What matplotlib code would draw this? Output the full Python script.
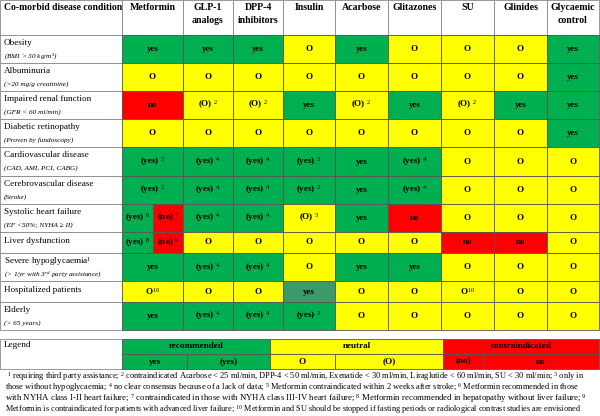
import matplotlib.pyplot as plt
from matplotlib.patches import Rectangle

plt.rcParams['font.family'] = 'Liberation Serif'
plt.rcParams['mathtext.fontset'] = 'custom'
plt.rcParams['mathtext.rm'] = 'Liberation Serif'
plt.rcParams['mathtext.it'] = 'Liberation Serif:italic'
plt.rcParams['mathtext.bf'] = 'Liberation Serif:bold'

# ---- data ----
drugs = ["Metformin", "GLP-1\nanalogs", "DPP-4\ninhibitors", "Insulin", "Acarbose",
         "Glitazones", "SU", "Glinides", "Glycaemic\ncontrol"]

conditions = ["Obesity", "Albuminuria", "Impaired renal function", "Diabetic retinopathy",
              "Cardiovascular disease", "Cerebrovascular disease", "Systolic heart failure",
              "Liver dysfunction", "Severe hypoglycaemia$^{1}$", "Hospitalized patients", "Elderly"]

subtitles = ["(BMI > 30 kg/m$^{2}$)", "(>20 mg/g creatinine)", "(GFR < 60 ml/min)",
             "(Proven by fundoscopy)", "(CAD, AMI, PCI, CABG)", "(Stroke)",
             "(EF <50%; NYHA \u2265 II)", "", "(> 1/yr with 3$^{rd}$ party assistance)",
             "", "(> 65 years)"]

# one entry per drug; a list means the cell is split in two
ratings = [
    ["yes", "yes", "yes", "O", "yes", "O", "O", "O", "yes"],
    ["O", "O", "O", "O", "O", "O", "O", "O", "yes"],
    ["no", "(O) ^2", "(O) ^2", "yes", "(O) ^2", "yes", "(O) ^2", "yes", "yes"],
    ["O", "O", "O", "O", "O", "O", "O", "O", "yes"],
    ["(yes) ^3", "(yes) ^4", "(yes) ^4", "(yes) ^3", "yes", "(yes) ^4", "O", "O", "O"],
    ["(yes) ^5", "(yes) ^4", "(yes) ^4", "(yes) ^3", "yes", "(yes) ^4", "O", "O", "O"],
    [["(yes) ^6", "(no) ^7"], "(yes) ^4", "(yes) ^4", "(O) ^3", "yes", "no", "O", "O", "O"],
    [["(yes) ^8", "(no) ^9"], "O", "O", "O", "O", "O", "no", "no", "O"],
    ["yes", "(yes) ^4", "(yes) ^4", "O", "yes", "yes", "O", "O", "O"],
    ["O^10", "O", "O", "yes", "O", "O", "O^10", "O", "O"],
    ["yes", "(yes) ^4", "(yes) ^4", "(yes) ^3", "O", "O", "O", "O", "O"],
]
shaded_cells = [("Hospitalized patients", "Insulin")]

legend_groups = ["recommended", "neutral", "contraindicated"]
legend_items = ["yes", "(yes)", "O", "(O)", "(no)", "no"]

footnotes = [
    "$^{1}$ requiring third party assistance; $^{2}$ contraindicated Acarbose < 25 ml/min, DPP-4 < 50 ml/min, "
    "Exenatide < 30 ml/min, Liraglutide < 60 ml/min, SU < 30 ml/min; $^{3}$ only in",
    "those without hypoglycaemia; $^{4}$ no clear consensus because of a lack of data; $^{5}$ Metformin "
    "contraindicated within 2 weeks after stroke; $^{6}$ Metformin recommended in those",
    "with NYHA class I-II heart failure; $^{7}$ contraindicated in those with NYHA class III-IV heart failure; "
    "$^{8}$ Metformin recommended in hepatopathy without liver failure; $^{9}$",
    "Metformin is contraindicated for patients with advanced liver failure; $^{10}$ Metformin and SU should be "
    "stopped if fasting periods or radiological contrast studies are envisioned",
]

# ---- layout ----
GREEN, YELLOW, RED, SHADE = "#00B050", "#FFFF00", "#FF0000", "#3C9A6A"
col_edges = [0, 122, 183, 233, 283, 335, 388, 441, 494, 547, 599]
row_heights = [28, 28, 28, 28, 29, 28, 28, 21, 28, 21, 28]
header_h = 35
split_x = 153
line_c = "#555555"


def cell_colour(s):
    if "yes" in s:
        return GREEN
    if "no" in s:
        return RED
    return YELLOW


def cell_text(s):
    base, _, sup = s.partition("^")
    return base + ("$^{%s}$" % sup if sup else "")


fig = plt.figure(figsize=(6, 4.16), dpi=100)
ax = fig.add_axes([0, 0, 1, 1])
ax.set_xlim(0, 600)
ax.set_ylim(416, 0)
ax.axis("off")


def box(x0, y0, x1, y1, fc, ec=line_c):
    ax.add_patch(Rectangle((x0, y0), x1 - x0, y1 - y0, facecolor=fc,
                           edgecolor=ec, linewidth=0.6))


# header
box(col_edges[0], 0, col_edges[1], header_h, "white", "#888888")
ax.text(4, 8, "Co-morbid disease condition", fontsize=6.9, fontweight="bold", va="center")
for j, d in enumerate(drugs):
    x0, x1 = col_edges[j + 1], col_edges[j + 2]
    box(x0, 0, x1, header_h, "white", "#888888")
    ax.text((x0 + x1) / 2, 2.5, d, fontsize=7.1, fontweight="bold", ha="center",
            va="top", linespacing=1.6)

# body
y = header_h
for i, cond in enumerate(conditions):
    h = row_heights[i]
    box(col_edges[0], y, col_edges[1], y + h, "white", "#888888")
    if subtitles[i]:
        ax.text(4, y + 8, cond, fontsize=6.6, va="center")
        ax.text(4, y + 21, subtitles[i], fontsize=5.2, style="italic", va="center")
    else:
        ax.text(4, y + h / 2 - 1.5, cond, fontsize=6.6, va="center")
    for j, r in enumerate(ratings[i]):
        x0, x1 = col_edges[j + 1], col_edges[j + 2]
        if isinstance(r, list):
            parts = [(x0, split_x, r[0]), (split_x, x1, r[1])]
        else:
            parts = [(x0, x1, r)]
        for a, b, s in parts:
            fc = cell_colour(s)
            if (cond, drugs[j]) in shaded_cells:
                fc = SHADE
            box(a, y, b, y + h, fc)
            ax.text((a + b) / 2, y + h / 2, cell_text(s), fontsize=6.5,
                    fontweight="bold", ha="center", va="center")
    y += h

# legend
ly0, ly1, ly2 = 339, 354, 369
group_edges = [122, 270, 443, 599]
item_edges = [122, 187, 270, 335, 443, 483, 599]
box(0, ly0, 122, ly2, "white", "#888888")
ax.text(4, ly0 + 6, "Legend", fontsize=6.6, va="center")
for k, g in enumerate(legend_groups):
    a, b = group_edges[k], group_edges[k + 1]
    fc = [GREEN, YELLOW, RED][k]
    box(a, ly0, b, ly1, fc)
    ax.text((a + b) / 2, (ly0 + ly1) / 2, g, fontsize=6.6, fontweight="bold",
            ha="center", va="center")
for k, it in enumerate(legend_items):
    a, b = item_edges[k], item_edges[k + 1]
    box(a, ly1, b, ly2, cell_colour(it))
    ax.text((a + b) / 2, (ly1 + ly2) / 2, it, fontsize=6.6, fontweight="bold",
            ha="center", va="center")

# footnotes, shrunk so each line fits the figure width
renderer = fig.canvas.get_renderer()
for k, line in enumerate(footnotes):
    x0 = 7 if k == 0 else 5
    t = ax.text(x0, 376.5 + k * 11, line, fontsize=6.3, va="center")
    for _ in range(3):
        w = t.get_window_extent(renderer).width
        fs = t.get_fontsize()
        if w > 586 - x0:
            t.set_fontsize(fs * (586 - x0) / w)

fig.savefig("out.png", dpi=100)
